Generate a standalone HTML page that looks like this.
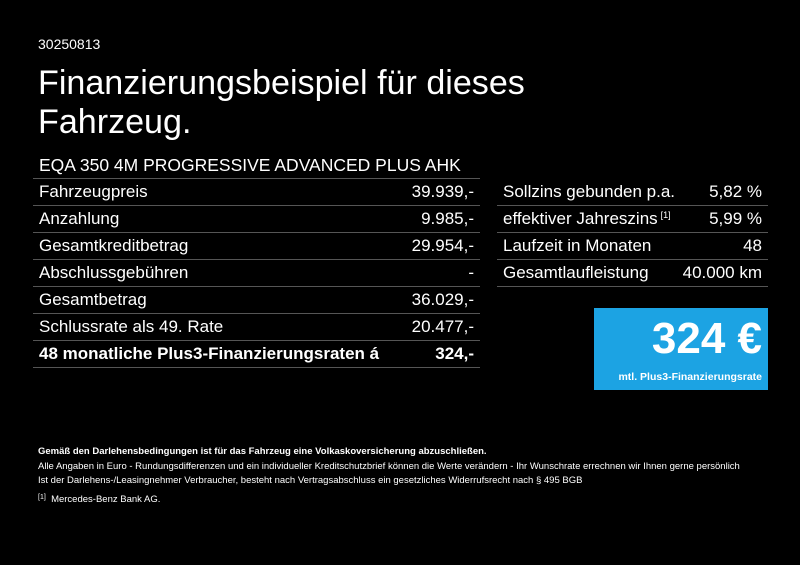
<!DOCTYPE html>
<html><head><meta charset="utf-8"><style>
body{margin:0;width:800px;height:565px;background:#000;color:#fff;font-family:"Liberation Sans",sans-serif;position:relative;overflow:hidden}
.a{position:absolute;white-space:nowrap}
.row{position:absolute;height:26px;border-bottom:1px solid #555;font-size:17px;line-height:26px}
.row span.r{position:absolute;right:6px;top:0}
.row span.l{position:absolute;left:6px;top:0}
.f{font-size:9.5px;position:absolute;left:38px;white-space:nowrap}
</style></head><body>
<div class="a" style="left:38px;top:36px;font-size:14px">30250813</div>
<div class="a" style="left:38px;top:64px;font-size:34.1px;line-height:39px">Finanzierungsbeispiel für dieses<br>Fahrzeug.</div>
<div class="a" style="left:39px;top:155px;font-size:17.5px">EQA 350 4M PROGRESSIVE ADVANCED PLUS AHK</div>
<div style="position:absolute;left:33px;top:178px;width:447px;border-top:1px solid #555"></div>
<div class="row" style="left:33px;width:447px;top:179px"><span class="l">Fahrzeugpreis</span><span class="r">39.939,-</span></div>
<div class="row" style="left:33px;width:447px;top:206px"><span class="l">Anzahlung</span><span class="r">9.985,-</span></div>
<div class="row" style="left:33px;width:447px;top:233px"><span class="l">Gesamtkreditbetrag</span><span class="r">29.954,-</span></div>
<div class="row" style="left:33px;width:447px;top:260px"><span class="l">Abschlussgebühren</span><span class="r">-</span></div>
<div class="row" style="left:33px;width:447px;top:287px"><span class="l">Gesamtbetrag</span><span class="r">36.029,-</span></div>
<div class="row" style="left:33px;width:447px;top:314px"><span class="l">Schlussrate als 49. Rate</span><span class="r">20.477,-</span></div>
<div class="row" style="left:33px;width:447px;top:341px;font-weight:bold"><span class="l">48 monatliche Plus3-Finanzierungsraten á</span><span class="r">324,-</span></div>
<div class="row" style="left:497px;width:271px;top:179px"><span class="l">Sollzins gebunden p.a.</span><span class="r">5,82 %</span></div>
<div class="row" style="left:497px;width:271px;top:206px"><span class="l">effektiver Jahreszins<span style="font-size:9px;position:relative;top:-6px;margin-left:3px;line-height:0">[1]</span></span><span class="r">5,99 %</span></div>
<div class="row" style="left:497px;width:271px;top:233px"><span class="l">Laufzeit in Monaten</span><span class="r">48</span></div>
<div class="row" style="left:497px;width:271px;top:260px"><span class="l">Gesamtlaufleistung</span><span class="r">40.000 km</span></div>
<div style="position:absolute;left:594px;top:308px;width:174px;height:82px;background:#1ca3e3">
<div class="a" style="right:6px;top:6px;font-size:44px;font-weight:bold">324 €</div>
<div class="a" style="right:6px;top:63px;font-size:10.5px;font-weight:bold">mtl. Plus3-Finanzierungsrate</div>
</div>
<div class="f" style="top:446px;font-weight:bold">Gemäß den Darlehensbedingungen ist für das Fahrzeug eine Volkaskoversicherung abzuschließen.</div>
<div class="f" style="top:461px">Alle Angaben in Euro - Rundungsdifferenzen und ein individueller Kreditschutzbrief können die Werte verändern - Ihr Wunschrate errechnen wir Ihnen gerne persönlich</div>
<div class="f" style="top:475px">Ist der Darlehens-/Leasingnehmer Verbraucher, besteht nach Vertragsabschluss ein gesetzliches Widerrufsrecht nach § 495 BGB</div>
<div class="f" style="top:494px"><span style="font-size:7px;position:relative;top:-3px">[1]</span>&nbsp; Mercedes-Benz Bank AG.</div>
</body></html>
